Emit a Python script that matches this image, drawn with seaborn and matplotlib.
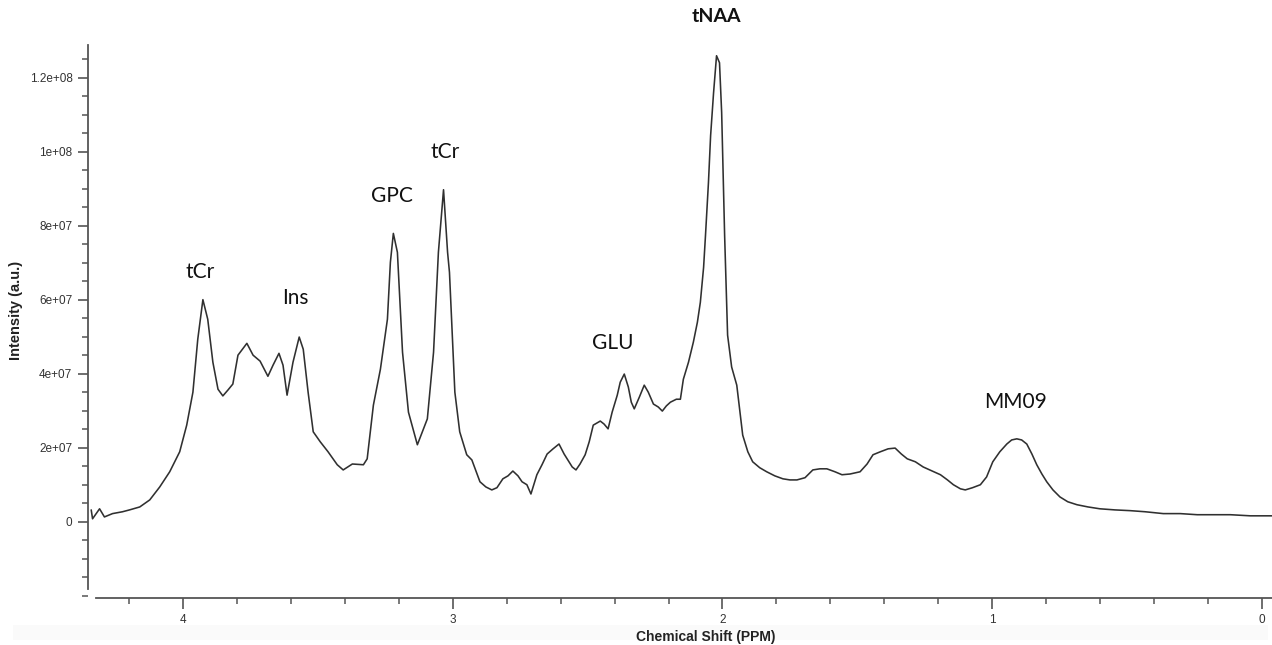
import matplotlib
matplotlib.use("Agg")
import matplotlib.pyplot as plt
from matplotlib.ticker import MultipleLocator, FixedLocator, FixedFormatter
from matplotlib.patches import Rectangle
import seaborn as sns
import pandas as pd

# ---------------- data ----------------
ppm = [
    4.340, 4.335, 4.309, 4.291, 4.261, 4.224, 4.198, 4.160, 4.123, 4.086,
    4.049, 4.012, 3.986, 3.963, 3.945, 3.926, 3.908, 3.889, 3.870, 3.852,
    3.833, 3.815, 3.796, 3.763, 3.740, 3.714, 3.685, 3.666, 3.644, 3.629,
    3.614, 3.592, 3.569, 3.554, 3.536, 3.517, 3.491, 3.462, 3.428, 3.406,
    3.372, 3.331, 3.317, 3.294, 3.268, 3.242, 3.231, 3.220, 3.205, 3.186,
    3.164, 3.131, 3.094, 3.071, 3.053, 3.034, 3.019, 3.012, 2.992, 2.974,
    2.948, 2.929, 2.899, 2.877, 2.855, 2.836, 2.814, 2.795, 2.777, 2.758,
    2.743, 2.725, 2.710, 2.688, 2.669, 2.650, 2.628, 2.606, 2.587, 2.576,
    2.557, 2.543, 2.528, 2.509, 2.494, 2.479, 2.453, 2.439, 2.424, 2.409,
    2.390, 2.379, 2.364, 2.349, 2.338, 2.327, 2.308, 2.290, 2.275, 2.256,
    2.238, 2.223, 2.208, 2.193, 2.171, 2.156, 2.145, 2.126, 2.108, 2.093,
    2.082, 2.070, 2.063, 2.052, 2.044, 2.033, 2.022, 2.011, 2.003, 1.992,
    1.981, 1.966, 1.947, 1.925, 1.906, 1.888, 1.862, 1.836, 1.806, 1.776,
    1.750, 1.724, 1.694, 1.665, 1.639, 1.613, 1.583, 1.557, 1.527, 1.490,
    1.464, 1.442, 1.415, 1.386, 1.360, 1.337, 1.315, 1.285, 1.256, 1.222,
    1.192, 1.166, 1.144, 1.118, 1.100, 1.073, 1.044, 1.021, 0.998, 0.972,
    0.946, 0.928, 0.909, 0.891, 0.872, 0.853, 0.835, 0.816, 0.798, 0.775,
    0.749, 0.720, 0.686, 0.645, 0.601, 0.545, 0.489, 0.433, 0.366, 0.303,
    0.240, 0.173, 0.117, 0.043, -0.039,
]

# intensity in millions of a.u.
intensity_m = [
    3.2, 0.8, 3.5, 1.3, 2.2, 2.7, 3.2, 4.0, 5.9, 9.4,
    13.5, 18.9, 26.1, 35.0, 49.3, 60.0, 54.7, 43.1, 35.8, 34.0,
    35.6, 37.2, 45.0, 48.2, 45.0, 43.4, 39.3, 42.3, 45.5, 42.3,
    34.2, 43.1, 49.9, 46.6, 35.0, 24.3, 21.6, 18.9, 15.4, 14.0,
    15.6, 15.4, 17.0, 31.5, 41.2, 54.7, 70.1, 77.9, 72.8, 45.8,
    29.6, 20.8, 27.8, 45.8, 72.8, 89.7, 72.8, 67.4, 35.0, 24.3,
    18.1, 16.7, 10.8, 9.4, 8.6, 9.2, 11.6, 12.4, 13.7, 12.4,
    10.8, 10.0, 7.5, 12.7, 15.4, 18.3, 19.7, 21.0, 18.3, 17.0,
    14.8, 14.0, 15.6, 18.1, 21.6, 26.1, 27.2, 26.4, 25.1, 29.6,
    34.2, 37.7, 39.9, 36.4, 32.3, 30.5, 33.7, 36.9, 35.0, 31.8,
    31.0, 29.9, 31.3, 32.3, 33.1, 33.1, 38.5, 43.1, 48.5, 53.9,
    59.3, 68.7, 77.3, 91.6, 104.3, 115.9, 125.9, 124.0, 110.5, 77.3,
    50.4, 41.8, 36.9, 23.4, 18.9, 16.2, 14.6, 13.5, 12.4, 11.6,
    11.3, 11.3, 11.9, 14.0, 14.3, 14.3, 13.5, 12.7, 12.9, 13.5,
    15.6, 18.1, 18.9, 19.7, 19.9, 18.3, 17.0, 16.2, 14.8, 13.7,
    12.7, 11.3, 10.0, 8.9, 8.6, 9.2, 10.0, 12.1, 16.2, 18.9,
    21.0, 22.1, 22.4, 22.1, 21.0, 18.3, 15.4, 12.9, 10.8, 8.6,
    6.7, 5.4, 4.6, 4.0, 3.5, 3.2, 3.0, 2.7, 2.2, 2.2,
    1.9, 1.9, 1.9, 1.6, 1.6,
]

y_tick_values = [0, 2e7, 4e7, 6e7, 8e7, 1e8, 1.2e8]
y_tick_labels = ["0", "2e+07", "4e+07", "6e+07", "8e+07", "1e+08", "1.2e+08"]
x_tick_values = [4, 3, 2, 1, 0]
x_tick_labels = ["4", "3", "2", "1", "0"]

peak_labels = ["tCr", "Ins", "GPC", "tCr", "GLU", "tNAA", "MM09"]
peak_label_ppm = [3.936, 3.584, 3.226, 3.028, 2.405, 2.024, 0.912]
peak_label_int_m = [67.6, 60.5, 88.0, 99.9, 48.3, 136.5, 32.4]

x_label = "Chemical Shift (PPM)"
y_label = "Intensity (a.u.)"

# ---------------- figure ----------------
sns.set_style("ticks")
plt.rcParams["font.family"] = ["Liberation Sans", "DejaVu Sans"]

df = pd.DataFrame({"ppm": ppm, "intensity": [v * 1e6 for v in intensity_m]})

fig = plt.figure(figsize=(12.72, 6.45), dpi=100)
W, H = 1272, 645
ax_left, ax_right, ax_top, ax_bottom = 87.7, 1272, 45, 598
ax = fig.add_axes([ax_left / W, (H - ax_bottom) / H,
                   (ax_right - ax_left) / W, (ax_bottom - ax_top) / H])
ax.set_zorder(2)
ax.patch.set_alpha(0)

# faint grey strip at the bottom of the image
fig.patches.append(Rectangle((13 / W, 5 / H), 1255 / W, 15 / H,
                             transform=fig.transFigure, facecolor="#fafafa",
                             edgecolor="none", zorder=-5))

sns.lineplot(data=df, x="ppm", y="intensity", ax=ax, sort=False,
             color="#303030", linewidth=1.15, estimator=None)

ax.set_xlim(4.353, -0.037)
ax.set_ylim(-2.06e7, 1.288e8)

for s in ["top", "right"]:
    ax.spines[s].set_visible(False)
ax.spines["left"].set_bounds(-1.82e7, 1.288e8)
ax.spines["bottom"].set_bounds(4.322, -0.037)
for s in ["left", "bottom"]:
    ax.spines[s].set_color("#555555")
    ax.spines[s].set_linewidth(1.3)

ax.yaxis.set_major_locator(FixedLocator(y_tick_values))
ax.yaxis.set_major_formatter(FixedFormatter(y_tick_labels))
ax.yaxis.set_minor_locator(MultipleLocator(5e6))
ax.xaxis.set_major_locator(FixedLocator(x_tick_values))
ax.xaxis.set_major_formatter(FixedFormatter(x_tick_labels))
ax.xaxis.set_minor_locator(MultipleLocator(0.2))

ax.tick_params(which="major", length=7.5, width=1.2, color="#555555",
               labelsize=8.5, labelcolor="#333333", pad=3.5)
ax.tick_params(which="minor", length=4, width=1.1, color="#555555")
ax.tick_params(axis="x", which="major", length=8)

ax.set_xlabel(x_label, fontsize=10, fontweight="bold", color="#222222")
ax.set_ylabel(y_label, fontsize=10.5, fontweight="bold", color="#222222")
ax.xaxis.set_label_coords(0.522, -0.058)
ax.yaxis.set_label_coords(-0.0546, 0.52)

for name, px, pv in zip(peak_labels, peak_label_ppm, peak_label_int_m):
    bold = name == "tNAA"
    ax.text(px, pv * 1e6, name, ha="center", va="center",
            fontsize=14 if bold else 15,
            fontweight="bold" if bold else "normal",
            family=["Lato", "DejaVu Sans"], color="#111111", clip_on=False)

fig.savefig("out.png", dpi=100)
